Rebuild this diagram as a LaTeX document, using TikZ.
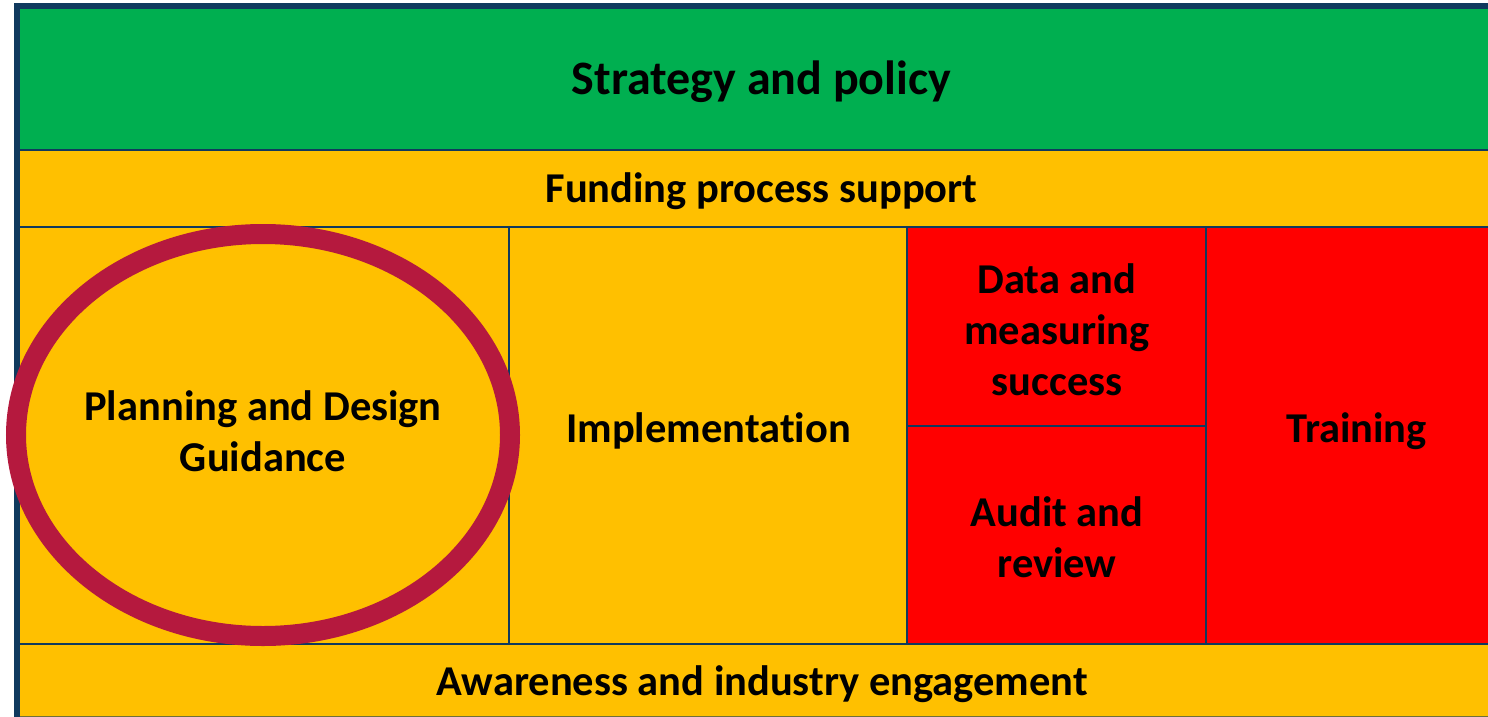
\documentclass[tikz,border=0pt]{standalone}
\usepackage{fontspec}
\setmainfont{Carlito}[Ligatures=NoCommon]
\definecolor{navy}{HTML}{103A5E}
\definecolor{grn}{HTML}{00AF50}
\definecolor{ylw}{HTML}{FFC000}
\definecolor{rd}{HTML}{FF0000}
\definecolor{crim}{HTML}{B5193E}
\tikzset{
  lbl/.style={font=\bfseries\fontsize{42.5}{51}\selectfont, align=center, text=black, inner sep=0pt},
  biglbl/.style={font=\bfseries\fontsize{48}{56}\selectfont, align=center, text=black, inner sep=0pt},
  divider/.style={draw=navy, line width=2.6pt},
  frame/.style={draw=navy, line width=6pt}
}
\begin{document}
\begin{tikzpicture}[x=1pt,y=-1pt]
\useasboundingbox[fill=white] (0,0) rectangle (1488,717);
% fills
\fill[grn] (17,6) rectangle (1488,150);
\fill[ylw] (17,150) rectangle (1488,227);
\fill[ylw] (17,227) rectangle (907,644);
\fill[rd] (907,227) rectangle (1488,644);
\fill[ylw] (17,644) rectangle (1488,717);
% dividers
\draw[divider] (17,150) -- (1488,150);
\draw[divider] (17,227) -- (1488,227);
\draw[divider] (17,644) -- (1488,644);
\draw[divider] (509,227) -- (509,644);
\draw[divider] (907,227) -- (907,644);
\draw[divider] (1206,227) -- (1206,644);
\draw[divider] (907,426) -- (1206,426);
\draw[navy!60!ylw, line width=1pt] (17,716.5) -- (1488,716.5);
% frame
\draw[frame] (17,717) -- (17,6) -- (1488,6);
% texts
\node[biglbl] (strategy) at (761.5,82) {Strategy and policy};
\node[lbl] (funding) at (761.5,191) {Funding process support};
\node[lbl] (planning) at (263,431) {Planning and Design\\Guidance};
\node[lbl] (impl) at (708.5,431) {Implementation};
\node[lbl] (data) at (1057,330) {Data and\\measuring\\success};
\node[lbl] (audit) at (1057,537) {Audit and\\review};
\node[lbl] (training) at (1356.5,431) {Training};
\node[lbl] (awareness) at (762,684) {Awareness and industry engagement};
% ellipse
\draw[crim, line width=20pt] (263,435) ellipse [x radius=247, y radius=201];
\end{tikzpicture}
\end{document}
